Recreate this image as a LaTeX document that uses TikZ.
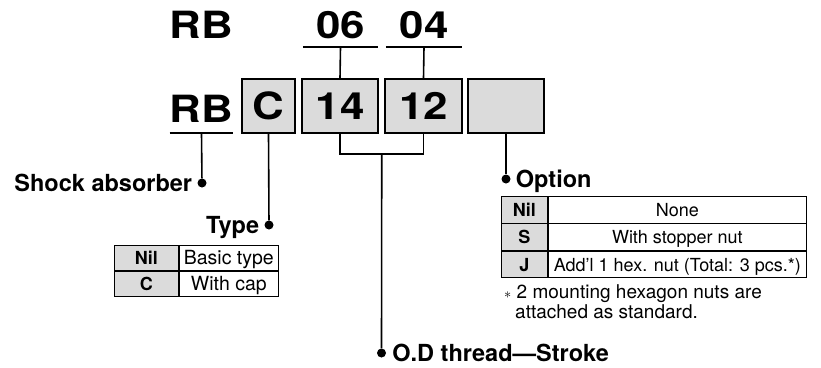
\documentclass[tikz,border=0pt]{standalone}
\usepackage{fontspec}
\usepackage{graphicx}
\setmainfont{TeX Gyre Heros}
\usetikzlibrary{positioning,calc}
\newcommand{\widecode}[1]{\scalebox{1.17}[1]{#1}}
\tikzstyle{code} = [font=\fontsize{37.5}{40}\selectfont\bfseries, inner sep=0pt, text depth=0pt]
\tikzstyle{box} = [draw, fill=black!14, line width=1.6pt, minimum height=54pt, inner sep=0pt, font=\fontsize{37.5}{40}\selectfont\bfseries]
\tikzstyle{line} = [draw, line width=1.6pt]
\tikzstyle{dot} = [circle, fill, inner sep=0pt, minimum size=9pt]
\tikzstyle{caption} = [font=\fontsize{23.5}{27}\selectfont\bfseries, inner sep=0pt, text height=17pt, text depth=0pt]
\tikzstyle{key} = [draw, fill=black!14, line width=0.9pt, inner sep=0pt, text height=13pt, text depth=0pt, font=\fontsize{18}{20}\selectfont\bfseries]
\tikzstyle{cell} = [draw, line width=0.9pt, inner sep=0pt, text height=13pt, text depth=0pt, font=\fontsize{18}{20}\selectfont]
\tikzstyle{note} = [font=\fontsize{19}{20}\selectfont, inner sep=0pt]

\begin{document}
\begin{tikzpicture}[x=1pt, y=-1pt, node distance=0pt]
    \useasboundingbox (0,0) rectangle (821,367);
    % old part number
    \node[code, anchor=base] (rbOld) at (201,38) {\widecode{RB}};
    \node[code, anchor=base, minimum width=75pt, inner ysep=9pt] (top06) at (340.5,38) {\widecode{06}};
    \node[code, anchor=base, minimum width=76pt, inner ysep=9pt] (top04) at (424,38) {\widecode{04}};
    % new part number
    \node[code, anchor=base, minimum width=59pt, inner ysep=11pt] (rbNew) at (201.5,122) {\widecode{RB}};
    \node[box, minimum width=53pt] (boxC) at (268.5,106) {\widecode{C}};
    \node[box, minimum width=76pt] (box14) at (340,106) {\widecode{14}};
    \node[box, minimum width=77pt] (box12) at (423.5,106) {\widecode{12}};
    \node[box, minimum width=76pt] (boxOpt) at (506,106) {};
    \path[line] (top06.south west) -- (top06.south east);
    \path[line] (top04.south west) -- (top04.south east);
    \path[line] (rbNew.south west) -- (rbNew.south east);
    \path[line] (top06.south) -- (box14.north);
    \path[line] (top04.south) -- (box12.north);
    \path[line] (box14.south) -- ++(0,20) -| (box12.south);
    \coordinate (brMid) at ($(box14.south)!0.5!(box12.south)+(0,20)$);
    % dots and captions
    \node[dot] (dotShock) at (202,183) {};
    \node[dot] (dotType) at (269,225) {};
    \node[dot] (dotOpt) at (506,179) {};
    \node[dot] (dotOD) at (381.5,353) {};
    \path[line] (rbNew.south) -- (dotShock);
    \path[line] (boxC.south) -- (dotType);
    \path[line] (boxOpt.south) -- (dotOpt);
    \path[line] (brMid) -- (dotOD);
    \node[caption, left=5pt of dotShock] (capShock) {Shock absorber};
    \node[caption, left=5pt of dotType] (capType) {Type};
    \node[caption, right=5pt of dotOpt] (capOpt) {Option};
    \node[caption, right=6pt of dotOD] (capOD) {O.D thread---Stroke};
    % type table
    \node[key, minimum width=64pt, minimum height=25pt, anchor=north west] (typeNil) at (114,245) {Nil};
    \node[cell, minimum width=99pt, minimum height=25pt, right=of typeNil, font=\fontsize{19.5}{20}\selectfont] (typeNilTxt) {Basic type};
    \node[key, minimum width=64pt, minimum height=25pt, below=of typeNil] (typeC) {C};
    \node[cell, minimum width=99pt, minimum height=25pt, right=of typeC, font=\fontsize{19.5}{20}\selectfont] (typeCTxt) {With cap};
    % option table
    \node[key, minimum width=46pt, minimum height=26.5pt, anchor=north west] (optNil) at (501,196) {Nil};
    \node[cell, minimum width=258pt, minimum height=26.5pt, right=of optNil] (optNilTxt) {None};
    \node[key, minimum width=46pt, minimum height=26.5pt, below=of optNil] (optS) {S};
    \node[cell, minimum width=258pt, minimum height=26.5pt, right=of optS] (optSTxt) {With stopper nut};
    \node[key, minimum width=46pt, minimum height=26.5pt, below=of optS] (optJ) {J};
    \node[cell, minimum width=258pt, minimum height=26.5pt, right=of optJ] (optJTxt) {Add’l 1 hex. nut (Total: 3 pcs.*)};
    \node[note, anchor=base west] (noteA) at (504,298) {$\scriptstyle\ast$ 2 mounting hexagon nuts are};
    \node[note, anchor=base west] (noteB) at (515,318) {attached as standard.};
\end{tikzpicture}
\end{document}
